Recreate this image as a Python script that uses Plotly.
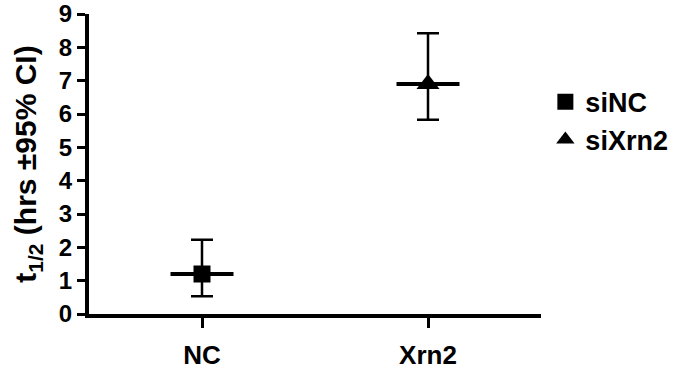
import plotly.graph_objects as go

categories = ["NC", "Xrn2"]
series_names = ["siNC", "siXrn2"]
means = [1.2, 6.9]
ci_low = [0.53, 5.83]
ci_high = [2.23, 8.42]
y_ticks = [0, 1, 2, 3, 4, 5, 6, 7, 8, 9]

symbols = ["square", "triangle-up"]
sizes = [17, 20]
legend_ids = ["legend", "legend2"]

FONT = "Liberation Sans, Arial, sans-serif"
W, H = 680, 381
fig = go.Figure()
xpos = list(range(len(categories)))
for i, name in enumerate(series_names):
    fig.add_trace(go.Scatter(
        x=[xpos[i]], y=[means[i]], mode="markers",
        marker=dict(symbol="line-ew", size=45, color="black",
                    line=dict(width=4, color="black")),
        error_y=dict(type="data", symmetric=False,
                     array=[ci_high[i] - means[i]],
                     arrayminus=[means[i] - ci_low[i]],
                     color="black", thickness=2.5, width=11),
        showlegend=False, hoverinfo="skip"))
    fig.add_trace(go.Scatter(
        x=[xpos[i]], y=[means[i]], mode="markers", name=name,
        legend=legend_ids[i],
        marker=dict(symbol=symbols[i], size=sizes[i], color="black")))

leg_common = dict(xref="container", yref="container", x=0.802,
                  xanchor="left", yanchor="middle",
                  font=dict(size=27, family=FONT, weight="bold"),
                  bgcolor="rgba(0,0,0,0)")
fig.update_layout(
    width=W, height=H,
    margin=dict(l=89, r=139, t=14, b=67, autoexpand=False),
    paper_bgcolor="white", plot_bgcolor="white",
    font=dict(family=FONT, color="black", size=22, weight="bold"),
    legend=dict(y=0.732, **leg_common),
    legend2=dict(y=0.633, **leg_common),
    xaxis=dict(range=[-0.5, 1.5], tickvals=xpos, ticktext=categories,
               automargin=False, ticklabeloverflow="allow",
               showgrid=False, zeroline=False, showline=True,
               linecolor="black", linewidth=4, ticks="outside",
               ticklen=10, tickwidth=3, tickcolor="black",
               ticklabelstandoff=5,
               tickfont=dict(size=26, family=FONT, weight="bold")),
    yaxis=dict(range=[0, 9], tickvals=y_ticks, showgrid=False,
               automargin=False, ticklabeloverflow="allow",
               zeroline=False, showline=True, linecolor="black",
               linewidth=4, ticks="outside", ticklen=8, tickwidth=3,
               tickcolor="black",
               tickfont=dict(size=24, family=FONT, weight="bold"),
               title=dict(text="t<sub>1/2</sub> (hrs ±95% CI)",
                          font=dict(size=30, family=FONT, weight="bold"),
                          standoff=14)),
)
# remove the browser's default 8px page margin so the figure fills the window
fig.write_html("out.html", config={"displayModeBar": False},
               post_script="document.body.style.margin='0';")
